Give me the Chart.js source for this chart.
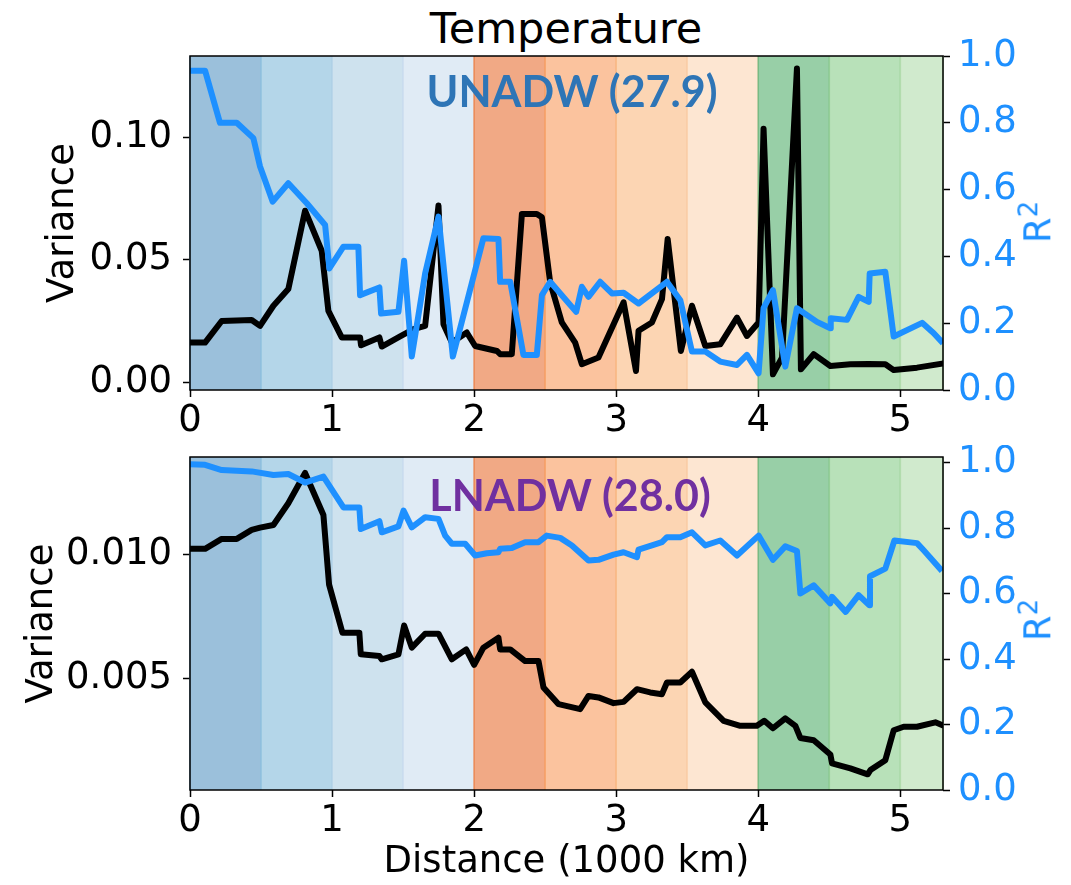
<!DOCTYPE html>
<html>
<head>
<meta charset="utf-8">
<script src="https://cdn.jsdelivr.net/npm/chart.js@4.4.0/dist/chart.umd.min.js"></script>
<style>
    body { margin: 0; background: #fff; }
    #fig { position: relative; width: 1071px; height: 885px; font-family: 'DejaVu Sans', sans-serif; }
    .panel { position: absolute; left: 0; width: 1071px; }
    .txt { position: absolute; white-space: nowrap; line-height: 1; transform: translateX(-50%); }
    .r2 { position: absolute; white-space: nowrap; line-height: 1; font-size: 37px; color: #1e90ff;
          transform: translate(-50%, -50%) rotate(-90deg); }
    .r2 sup { font-size: 26px; }
</style>
</head>
<body>
<div id="fig">
    <div class="txt" style="left:566px;top:7px;font-size:43px;color:#000">Temperature</div>
    <div class="panel" style="top:0;height:445px"><canvas id="upper"></canvas></div>
    <div class="panel" style="top:445px;height:440px"><canvas id="lower"></canvas></div>
    <div class="txt" style="left:572px;top:65px;font:bold 43px Lato;color:#2e75b6">UNADW (27.9)</div>
    <div class="txt" style="left:570px;top:469px;font:bold 43px Lato;color:#7030a0">LNADW (28.0)</div>
    <div class="r2" style="left:1036px;top:222px">R<sup>2</sup></div>
    <div class="r2" style="left:1036px;top:620px">R<sup>2</sup></div>
</div>
<script>
// distance bands (1000 km)
const bandEdges = [0, 0.5, 1, 1.5, 2, 2.5, 3, 3.5, 4, 4.5, 5, 5.3];

// upper layer (UNADW)
const upperVarDist = [0, 0.106, 0.223, 0.434, 0.493, 0.587, 0.692, 0.81, 0.927, 0.974, 1.068, 1.197, 1.204, 1.333, 1.35,
    1.479, 1.573, 1.655, 1.749, 1.784, 1.843, 1.948, 2.007, 2.16, 2.183, 2.265, 2.336, 2.441, 2.477, 2.535, 2.617, 2.711,
    2.758, 2.875, 3.052, 3.139, 3.157, 3.251, 3.322, 3.362, 3.455, 3.533, 3.627, 3.732, 3.85, 3.92, 4.002, 4.037, 4.103,
    4.167, 4.272, 4.30, 4.39, 4.507, 4.648, 4.777, 4.894, 4.953, 5.117, 5.305];
const upperVariance = [0.0163, 0.0163, 0.0251, 0.0255, 0.0231, 0.0313, 0.0381, 0.070, 0.0537, 0.0292, 0.0184, 0.0184,
    0.0152, 0.0184, 0.0147, 0.0188, 0.0218, 0.0231, 0.0721, 0.0238, 0.0163, 0.0204, 0.0149, 0.0129, 0.0116, 0.0116,
    0.0687, 0.0687, 0.0673, 0.0408, 0.0245, 0.0163, 0.0075, 0.0102, 0.0327, 0.0047, 0.0211, 0.0245, 0.034, 0.0585,
    0.0129, 0.0313, 0.0149, 0.0156, 0.0265, 0.019, 0.0245, 0.1034, 0.0034, 0.0102, 0.1279, 0.0054, 0.0116, 0.0068,
    0.0075, 0.0076, 0.0075, 0.0051, 0.0061, 0.0078];
const upperR2Dist = [0, 0.106, 0.211, 0.329, 0.446, 0.493, 0.582, 0.692, 0.822, 0.951, 0.981, 1.08, 1.185, 1.197, 1.333,
    1.345, 1.467, 1.507, 1.561, 1.655, 1.749, 1.85, 2.065, 2.171, 2.183, 2.254, 2.347, 2.441, 2.477, 2.535, 2.718, 2.758,
    2.805, 2.887, 2.97, 3.052, 3.157, 3.357, 3.451, 3.533, 3.627, 3.732, 3.85, 3.92, 4.002, 4.037, 4.103, 4.19, 4.272,
    4.413, 4.507, 4.51, 4.624, 4.706, 4.777, 4.784, 4.894, 4.953, 5.153, 5.235, 5.3];
const upperR2 = [0.956, 0.956, 0.80, 0.80, 0.754, 0.669, 0.564, 0.619, 0.559, 0.494, 0.364, 0.429, 0.429, 0.284, 0.307,
    0.229, 0.234, 0.387, 0.10, 0.349, 0.519, 0.10, 0.454, 0.452, 0.324, 0.324, 0.105, 0.105, 0.284, 0.324, 0.234, 0.309,
    0.279, 0.324, 0.289, 0.291, 0.259, 0.324, 0.269, 0.115, 0.115, 0.085, 0.075, 0.105, 0.05, 0.245, 0.299, 0.07, 0.245,
    0.204, 0.185, 0.215, 0.21, 0.279, 0.264, 0.349, 0.354, 0.16, 0.201, 0.17, 0.14];

// lower layer (LNADW)
const lowerVarDist = [0, 0.106, 0.223, 0.329, 0.434, 0.493, 0.587, 0.692, 0.81, 0.939, 0.979, 1.073, 1.192, 1.202, 1.333,
    1.35, 1.467, 1.507, 1.561, 1.655, 1.749, 1.843, 1.944, 2.0, 2.065, 2.171, 2.183, 2.254, 2.359, 2.453, 2.488, 2.594,
    2.746, 2.805, 2.875, 2.981, 3.052, 3.146, 3.239, 3.322, 3.357, 3.451, 3.533, 3.627, 3.756, 3.873, 3.99, 4.042, 4.103,
    4.19, 4.261, 4.296, 4.39, 4.507, 4.519, 4.648, 4.77, 4.789, 4.894, 4.953, 5.023, 5.117, 5.246, 5.305];
const lowerVariance = [0.01021, 0.01021, 0.01061, 0.01061, 0.01097, 0.01106, 0.01117, 0.01204, 0.01326, 0.01157, 0.00877,
    0.00684, 0.00684, 0.00597, 0.0059, 0.00577, 0.00597, 0.00713, 0.00624, 0.0068, 0.0068, 0.00577, 0.00617, 0.00555,
    0.00624, 0.00664, 0.00617, 0.00617, 0.0057, 0.0057, 0.00464, 0.00397, 0.00377, 0.0043, 0.00424, 0.00401, 0.00406,
    0.00457, 0.00444, 0.00437, 0.00484, 0.00484, 0.00527, 0.00404, 0.0033, 0.0031, 0.0031, 0.0033, 0.0030, 0.0034,
    0.0031, 0.00261, 0.00252, 0.00195, 0.00159, 0.00139, 0.00115, 0.00132, 0.00172, 0.00292, 0.00306, 0.00306, 0.00324,
    0.0031];
const lowerR2Dist = [0, 0.106, 0.223, 0.434, 0.587, 0.692, 0.81, 0.939, 1.08, 1.192, 1.202, 1.333, 1.35, 1.467, 1.503,
    1.561, 1.655, 1.749, 1.796, 1.843, 1.937, 2.007, 2.089, 2.171, 2.183, 2.265, 2.359, 2.453, 2.511, 2.606, 2.688, 2.805,
    2.875, 2.981, 3.052, 3.146, 3.157, 3.251, 3.322, 3.357, 3.451, 3.533, 3.627, 3.732, 3.85, 4.002, 4.103, 4.19, 4.272,
    4.296, 4.39, 4.507, 4.519, 4.615, 4.706, 4.782, 4.786, 4.894, 4.958, 5.117, 5.164, 5.293];
const lowerR2 = [0.995, 0.993, 0.977, 0.973, 0.962, 0.965, 0.939, 0.957, 0.863, 0.863, 0.797, 0.821, 0.787, 0.805, 0.853,
    0.802, 0.833, 0.828, 0.777, 0.752, 0.752, 0.716, 0.723, 0.726, 0.737, 0.739, 0.757, 0.757, 0.777, 0.770, 0.747, 0.701,
    0.703, 0.719, 0.726, 0.711, 0.734, 0.747, 0.757, 0.772, 0.772, 0.787, 0.747, 0.762, 0.716, 0.777, 0.703, 0.744, 0.730,
    0.60, 0.625, 0.570, 0.590, 0.544, 0.595, 0.564, 0.653, 0.676, 0.762, 0.754, 0.732, 0.669];

const BLUE = '#1e90ff';
const bandFill = ['#9bc0db', '#b4d6e9', '#cee2ee', '#e0ebf5', '#f1a985', '#fbc39e', '#fcd5b3', '#fde6d2',
    '#98cfa7', '#b8e1b9', '#d0eacd'];
const bandLine = ['#7fb0d4', '#94c4e0', '#b7d4e8', '#cfdff0', '#ee8a55', '#f8a66f', '#f9bd8c', '#fbd3b0',
    '#76bb86', '#95cf97', '#b2dcad'];

Chart.defaults.font.family = "'DejaVu Sans', sans-serif";
Chart.defaults.font.size = 37;
Chart.defaults.color = '#000';

const pts = (xs, ys) => xs.map((x, i) => ({ x, y: ys[i] }));

const bands = {
    id: 'bands',
    beforeDatasetsDraw(chart) {
        const { ctx, chartArea: a, scales: { x } } = chart;
        ctx.save();
        ctx.lineWidth = 1.5;
        for (let i = 0; i < bandFill.length; i++) {
            const x0 = x.getPixelForValue(bandEdges[i]);
            const x1 = x.getPixelForValue(bandEdges[i + 1]);
            ctx.fillStyle = bandFill[i];
            ctx.fillRect(x0, a.top, x1 - x0, a.bottom - a.top);
            ctx.strokeStyle = bandLine[i];
            ctx.beginPath();
            ctx.moveTo(x0, a.top); ctx.lineTo(x0, a.bottom);
            ctx.moveTo(x1, a.top); ctx.lineTo(x1, a.bottom);
            ctx.stroke();
        }
        ctx.restore();
    }
};

const frame = {
    id: 'frame',
    afterDatasetsDraw(chart) {
        const { ctx, chartArea: a } = chart;
        ctx.save();
        ctx.strokeStyle = '#000';
        ctx.lineWidth = 1.5;
        ctx.strokeRect(a.left, a.top, a.right - a.left, a.bottom - a.top);
        ctx.restore();
    }
};

const tickGrid = { drawOnChartArea: false, tickLength: 7, tickColor: '#000', tickWidth: 1.5 };

function makePanel(id, p) {
    return new Chart(document.getElementById(id), {
        type: 'line',
        data: {
            datasets: [
                { data: pts(p.r2Dist, p.r2), yAxisID: 'yR2', borderColor: BLUE, borderWidth: 6,
                  pointRadius: 0, tension: 0, borderJoinStyle: 'round' },
                { data: pts(p.varDist, p.variance), yAxisID: 'yVar', borderColor: '#000', borderWidth: 6,
                  pointRadius: 0, tension: 0, borderJoinStyle: 'round' }
            ]
        },
        options: {
            responsive: true,
            maintainAspectRatio: false,
            animation: false,
            layout: { padding: { left: p.left, right: 9, top: p.top, bottom: 0 } },
            plugins: { legend: { display: false }, tooltip: { enabled: false } },
            scales: {
                x: {
                    type: 'linear', min: 0, max: 5.3,
                    ticks: { stepSize: 1, includeBounds: false, padding: 2 },
                    grid: tickGrid,
                    border: { display: false },
                    title: { display: !!p.xTitle, text: p.xTitle || '', padding: 0 },
                    afterFit: s => { s.height = p.xHeight; s.paddingLeft = 0; s.paddingRight = 0; }
                },
                yVar: {
                    position: 'left', min: p.varMin, max: p.varMax,
                    ticks: { stepSize: p.varStep, includeBounds: false, padding: 11, callback: v => v.toFixed(p.dec) },
                    grid: tickGrid,
                    border: { display: false },
                    title: { display: true, text: 'Variance', padding: 0 },
                    afterFit: s => { s.width = 190 - p.left; s.paddingTop = 0; s.paddingBottom = 0; }
                },
                yR2: {
                    position: 'right', min: 0, max: p.r2Max,
                    ticks: { stepSize: 0.2, includeBounds: false, padding: 8, color: BLUE, callback: v => v.toFixed(1) },
                    grid: tickGrid,
                    border: { display: false },
                    afterFit: s => { s.width = 119; s.paddingTop = 0; s.paddingBottom = 0; }
                }
            }
        },
        plugins: [bands, frame]
    });
}

makePanel('upper', {
    varDist: upperVarDist, variance: upperVariance, r2Dist: upperR2Dist, r2: upperR2,
    varMin: -0.003, varMax: 0.133, varStep: 0.05, dec: 2, r2Max: 1.0,
    top: 56, xHeight: 55, left: 41
});

makePanel('lower', {
    varDist: lowerVarDist, variance: lowerVariance, r2Dist: lowerR2Dist, r2: lowerR2,
    varMin: 0.00052, varMax: 0.0139, varStep: 0.005, dec: 3, r2Max: 1.017,
    top: 12, xHeight: 95, left: 20, xTitle: 'Distance (1000 km)'
});
</script>
</body>
</html>
